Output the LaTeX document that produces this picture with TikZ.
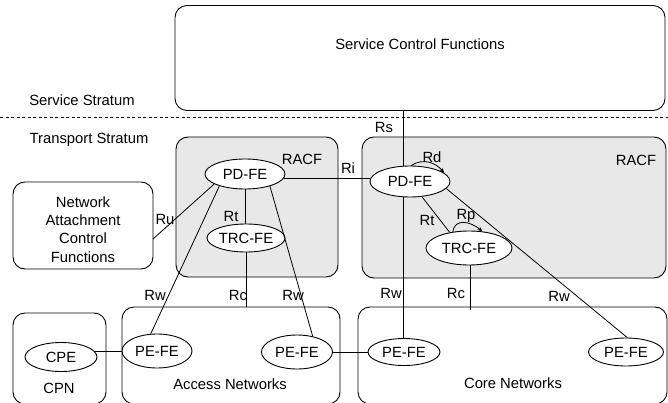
\documentclass[tikz,border=0pt]{standalone}
\usepackage{fontspec}
\setmainfont{Liberation Sans}
\usetikzlibrary{shapes.geometric,arrows.meta,calc}
\definecolor{racfgray}{RGB}{232,232,232}
\tikzset{
  lbl/.style={font=\fontsize{14.8}{18.3}\selectfont, inner sep=0pt},
  box/.style={draw=black, line width=0.9pt, rounded corners=12pt, inner sep=0pt},
  racf/.style={box, fill=racfgray},
  fe/.style={ellipse, draw=black, line width=0.9pt, fill=white, inner sep=0pt,
    font=\fontsize{14.8}{18}\selectfont},
  link/.style={draw=black, line width=0.8pt},
  loop/.style={link, -{Stealth[length=5pt,width=4pt]}}
}
\begin{document}
\begin{tikzpicture}[x=1pt,y=-1pt]
\useasboundingbox (0,0) rectangle (668,403);

% strata boundary
\coordinate (dl) at (0,117);
\coordinate (dr) at (668,117);
\draw[line width=0.8pt, dash pattern=on 3pt off 2.5pt] (dl) -- (dr);
\node[lbl] (sst) at (82,100) {Service Stratum};
\node[lbl] (tst) at (89,140) {Transport Stratum};

% service stratum
\node[box, minimum width=490pt, minimum height=105pt] (scf) at (420,58) {};
\node[lbl] (scft) at (420,44) {Service Control Functions};

% RACF groups
\node[racf, minimum width=162pt, minimum height=140pt] (racfl) at (257,207) {};
\node[racf, minimum width=304pt, minimum height=141pt] (racfr) at (514,207.5) {};
\node[lbl] (racflt) at (302,159) {RACF};
\node[lbl] (racfrt) at (636,160) {RACF};

% network attachment
\node[box, minimum width=140pt, minimum height=87pt] (nac) at (83,225.5) {};
\node[lbl, align=center] (nact) at (83,229.5) {Network\\Attachment\\Control\\Functions};
\coordinate (ru) at (153,239);

% networks
\node[box, minimum width=93pt, minimum height=91pt] (cpn) at (59.5,358.5) {};
\node[box, minimum width=218pt, minimum height=97pt] (acc) at (231,355.5) {};
\node[box, minimum width=309pt, minimum height=97pt] (cor) at (512.5,355.5) {};
\node[lbl] (cpnt) at (59,388) {CPN};
\node[lbl] (acct) at (230,384) {Access Networks};
\node[lbl] (cort) at (513,383) {Core Networks};

% functional entities
\node[fe, minimum width=80pt, minimum height=30pt] (pdl) at (245,174) {PD-FE};
\node[fe, minimum width=78pt, minimum height=28pt] (trl) at (246,238) {TRC-FE};
\node[fe, minimum width=80pt, minimum height=31pt] (pdr) at (410,181.5) {PD-FE};
\node[fe, minimum width=86pt, minimum height=34pt] (trr) at (469,248) {TRC-FE};
\node[fe, minimum width=72pt, minimum height=29pt] (cpe) at (61,357) {CPE};
\node[fe, minimum width=70pt, minimum height=34pt] (pea) at (157,351) {PE-FE};
\node[fe, minimum width=71pt, minimum height=34pt] (peb) at (297,352) {PE-FE};
\node[fe, minimum width=72pt, minimum height=27pt] (pec) at (404,352) {PE-FE};
\node[fe, minimum width=75pt, minimum height=28pt] (ped) at (626,352) {PE-FE};

% reference points, left RACF
\draw[link] (ru) -- (pdl.-162);
\draw[link] (pdl.-155) -- (pea.110);
\draw[link] (pdl.-26) -- (peb.45);
\draw[link] (pdl.south) -- (pdl.south |- trl.north);
\draw[link] (trl.south) -- (trl.south |- acc.north);
\draw[link] (pdl.-6) -- (pdl.-6 -| pdr.west);

% reference points, right RACF
\draw[link] (pdr.114 |- scf.south) -- (pdr.114);
\draw[link] (pdr.-114) -- (pdr.-114 |- pec.north);
\draw[link] (pdr.-52) -- (trr.141);
\draw[link] (pdr.-11) -- (ped.85);
\draw[link] (trr.-84) -- ($(trr.-84 |- cor.north)+(0,3)$);
\draw[loop] (pdr.86) .. controls +(12,-8) and +(-8,-10) .. (pdr.14);
\draw[loop] (trr.135) .. controls +(2,-14) and +(-12,-10) .. (trr.51);

% transport links
\draw[link] (cpe.10) -- (cpe.10 -| pea.west);
\draw[link] (peb.east) -- (pec.west);

% labels
\node[lbl] (rs) at (384,127) {Rs};
\node[lbl] (ri) at (348,168) {Ri};
\node[lbl] (rd) at (432,157) {Rd};
\node[lbl] (rtl) at (231,216) {Rt};
\node[lbl] (rtr) at (427,220) {Rt};
\node[lbl] (rp) at (466,216) {Rp};
\node[lbl] (rul) at (165,219) {Ru};
\node[lbl] (rw1) at (155,295) {Rw};
\node[lbl] (rc1) at (238,295) {Rc};
\node[lbl] (rw2) at (293,295) {Rw};
\node[lbl] (rw3) at (391,293) {Rw};
\node[lbl] (rc2) at (456,293) {Rc};
\node[lbl] (rw4) at (559,296) {Rw};
\end{tikzpicture}
\end{document}
